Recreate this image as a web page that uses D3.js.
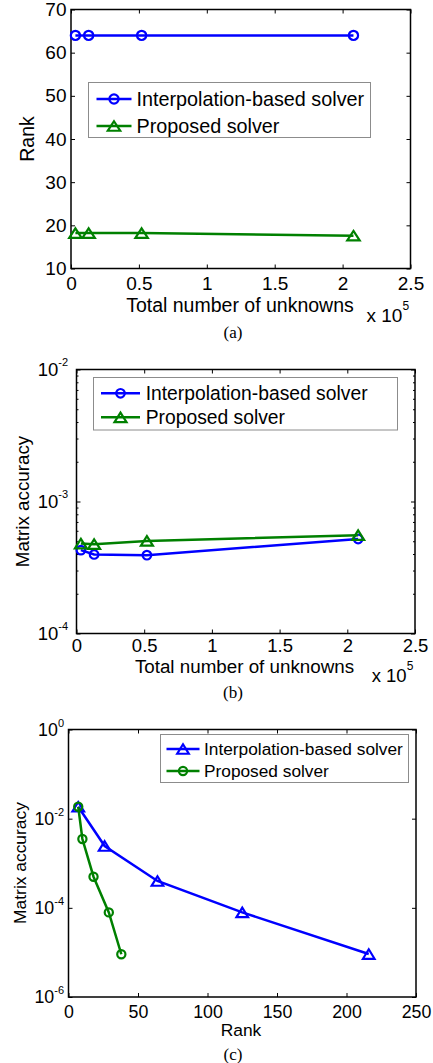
<!DOCTYPE html>
<html><head><meta charset="utf-8">
<script src="https://cdn.jsdelivr.net/npm/d3@7"></script>
<style>body{margin:0;background:#fff}</style>
</head><body><svg id="c" width="433" height="1063"></svg>
<script>
// ---------- data ----------
const unknowns = [3250, 13000, 52000, 208000];
const rankInterp = [64, 64, 64, 64];
const rankProposed = [18.2, 18.2, 18.2, 17.6];
const accInterpB = [4.28e-4, 3.97e-4, 3.92e-4, 5.2e-4];
const accProposedB = [4.8e-4, 4.75e-4, 5.03e-4, 5.56e-4];
const rankInterpC = [7, 26, 64, 125, 216];
const accInterpC = [1.85e-2, 2.44e-3, 4.0e-4, 7.9e-5, 9.2e-6];
const rankProposedC = [7, 10, 18, 29, 38];
const accProposedC = [1.85e-2, 3.5e-3, 4.99e-4, 7.9e-5, 9.1e-6];
const xTicksAB = [0, 50000, 100000, 150000, 200000, 250000];
const yTicksA = [10, 20, 30, 40, 50, 60, 70];
const yTicksB = [1e-4, 1e-3, 1e-2];
const yMinorB = [2e-4,3e-4,4e-4,5e-4,6e-4,7e-4,8e-4,9e-4,2e-3,3e-3,4e-3,5e-3,6e-3,7e-3,8e-3,9e-3];
const xTicksC = [0, 50, 100, 150, 200, 250];
const yTicksC = [1e-6, 1e-4, 1e-2, 1];
const seriesNames = ["Interpolation-based solver", "Proposed solver"];
const xLabelAB = "Total number of unknowns";
const yLabelA = "Rank";
const yLabelBC = "Matrix accuracy";
const xLabelC = "Rank";
const captions = ["(a)", "(b)", "(c)"];

// ---------- drawing ----------
const svg = d3.select('#c');
const FONT = '"Liberation Sans", Arial, Helvetica, sans-serif';
const SERIF = '"Liberation Serif", "Times New Roman", serif';
const BLUE = '#0000ff', GREEN = '#008000';
const LW = 2.5;

function triPath(w, h) {
  return `M0,${-h/2}L${w},${h/2}L${-w},${h/2}Z`;
}
function marker(sel, type, color, o) {
  if (type === 'o') {
    sel.append('circle').attr('r', o.cr).attr('fill', 'none').attr('stroke', color).attr('stroke-width', 2.2);
  } else {
    sel.append('path').attr('d', triPath(o.tw, o.th)).attr('fill', 'none').attr('stroke', color).attr('stroke-width', 2.2).attr('stroke-linejoin', 'miter');
  }
}

function drawPanel(o) {
  const g = svg.append('g').attr('font-family', FONT);
  const B = o.box;
  const x = d3.scaleLinear().domain(o.xDomain).range([B.l, B.r]);
  const y = (o.logY ? d3.scaleLog() : d3.scaleLinear()).domain(o.yDomain).range([B.b, B.t]);
  const TL = 4;

  g.append('g').attr('transform', `translate(0,${B.b})`)
    .call(d3.axisBottom(x).tickValues(o.xTicks).tickSizeInner(-TL).tickSizeOuter(0).tickPadding(o.xPad).tickFormat(o.xFmt));
  g.append('g').attr('transform', `translate(0,${B.t})`)
    .call(d3.axisTop(x).tickValues(o.xTicks).tickSizeInner(-TL).tickSizeOuter(0).tickFormat(''));
  const axL = g.append('g').attr('transform', `translate(${B.l},0)`)
    .call(d3.axisLeft(y).tickValues(o.yTicks).tickSizeInner(-TL).tickSizeOuter(0).tickPadding(o.yPad).tickFormat(o.logY ? () => '' : d3.format('d')));
  g.append('g').attr('transform', `translate(${B.r},0)`)
    .call(d3.axisRight(y).tickValues(o.yTicks).tickSizeInner(-TL).tickSizeOuter(0).tickFormat(''));
  if (o.yMinor) {
    g.append('g').attr('transform', `translate(${B.l},0)`)
      .call(d3.axisLeft(y).tickValues(o.yMinor).tickSizeInner(-2).tickSizeOuter(0).tickFormat(''));
    g.append('g').attr('transform', `translate(${B.r},0)`)
      .call(d3.axisRight(y).tickValues(o.yMinor).tickSizeInner(-2).tickSizeOuter(0).tickFormat(''));
  }
  g.selectAll('.domain').remove();
  g.selectAll('.tick line').attr('stroke', '#000').attr('stroke-width', 1);
  g.selectAll('g').attr('font-family', FONT).attr('font-size', o.fs);
  g.selectAll('.tick text').attr('fill', '#000').attr('font-family', FONT).attr('font-size', o.fs);
  if (o.logY) {
    axL.selectAll('.tick text').each(function (d) {
      const e = Math.round(Math.log10(d));
      const t = d3.select(this);
      t.text(null);
      t.append('tspan').text('10');
      t.append('tspan').attr('dy', -o.supRaise).attr('font-size', o.supFs).text(String(e));
    });
  }

  g.append('rect').attr('x', B.l).attr('y', B.t).attr('width', B.r - B.l).attr('height', B.b - B.t)
    .attr('fill', 'none').attr('stroke', '#000').attr('stroke-width', 1.5);

  const line = d3.line().x(d => x(d[0])).y(d => y(d[1]));
  o.series.forEach(s => {
    const pts = s.x.map((v, i) => [v, s.y[i]]);
    g.append('path').datum(pts).attr('d', line).attr('fill', 'none').attr('stroke', s.color).attr('stroke-width', LW);
    g.selectAll(null).data(pts).enter().append('g')
      .attr('transform', d => `translate(${x(d[0])},${y(d[1])})`)
      .each(function () { marker(d3.select(this), s.marker, s.color, o); });
  });

  // legend
  const L = o.legend;
  g.append('rect').attr('x', L.x0).attr('y', L.y0).attr('width', L.x1 - L.x0).attr('height', L.y1 - L.y0)
    .attr('fill', '#fff').attr('stroke', '#8c8c8c').attr('stroke-width', 1);
  o.series.forEach((s, i) => {
    const cy = L.rows[i];
    g.append('line').attr('x1', L.lx0).attr('x2', L.lx1).attr('y1', cy).attr('y2', cy)
      .attr('stroke', s.color).attr('stroke-width', LW);
    const m = g.append('g').attr('transform', `translate(${(L.lx0 + L.lx1) / 2},${cy})`);
    marker(m, s.marker, s.color, o);
    g.append('text').attr('x', L.tx).attr('y', cy + 0.36 * L.fs).attr('font-size', L.fs).attr('fill', '#000').text(s.name);
  });

  // axis labels
  g.append('text').attr('x', o.xLab.x).attr('y', o.xLab.y).attr('text-anchor', 'middle')
    .attr('font-size', o.labFs).attr('fill', '#000').text(o.xLab.text);
  g.append('text').attr('transform', `translate(${o.yLab.x},${o.yLab.y}) rotate(-90)`).attr('text-anchor', 'middle')
    .attr('font-size', o.labFs).attr('fill', '#000').text(o.yLab.text);
  if (o.mult) {
    const t = g.append('text').attr('x', o.mult.x).attr('y', o.mult.y).attr('font-size', o.fs).attr('fill', '#000');
    t.append('tspan').text('x 10');
    t.append('tspan').attr('dy', -12).attr('font-size', 12).text('5');
  }
  svg.append('text').attr('x', o.cap.x).attr('y', o.cap.y).attr('text-anchor', 'middle')
    .attr('font-family', SERIF).attr('font-size', 17).attr('fill', '#000').text(o.cap.text);
}

const fmtE5 = d => String(+(d / 1e5).toFixed(1));

drawPanel({
  box: { l: 71, r: 410.5, t: 9.5, b: 268.5 },
  xDomain: [0, 250000], yDomain: [10, 70], logY: false,
  xTicks: xTicksAB, yTicks: yTicksA, xFmt: fmtE5,
  xPad: 8, yPad: 4.5, fs: 19, labFs: 19.5,
  cr: 4.6, tw: 6.2, th: 9.5,
  series: [
    { name: seriesNames[0], x: unknowns, y: rankInterp, color: BLUE, marker: 'o' },
    { name: seriesNames[1], x: unknowns, y: rankProposed, color: GREEN, marker: '^' }
  ],
  legend: { x0: 88.5, x1: 370.5, y0: 82.5, y1: 137.5, rows: [99, 126], lx0: 96.5, lx1: 131.5, tx: 136.5, fs: 19.8 },
  xLab: { x: 240, y: 311.5, text: xLabelAB },
  yLab: { x: 34, y: 139, text: yLabelA },
  mult: { x: 366.5, y: 321.7 },
  cap: { x: 233, y: 338, text: captions[0] }
});

drawPanel({
  box: { l: 76.5, r: 415, t: 369.5, b: 633.5 },
  xDomain: [0, 250000], yDomain: [1e-4, 1e-2], logY: true,
  xTicks: xTicksAB, yTicks: yTicksB, yMinor: yMinorB, xFmt: fmtE5,
  xPad: 5.5, yPad: 8.5, fs: 18.5, labFs: 18.8, supFs: 11, supRaise: 10,
  cr: 4.3, tw: 6, th: 9.5,
  series: [
    { name: seriesNames[0], x: unknowns, y: accInterpB, color: BLUE, marker: 'o' },
    { name: seriesNames[1], x: unknowns, y: accProposedB, color: GREEN, marker: '^' }
  ],
  legend: { x0: 93.5, x1: 397.5, y0: 377.5, y1: 430, rows: [393.3, 417.3], lx0: 101, lx1: 140, tx: 145.7, fs: 19.3 },
  xLab: { x: 244.5, y: 673, text: xLabelAB },
  yLab: { x: 29, y: 501.5, text: yLabelBC },
  mult: { x: 371.7, y: 681.5 },
  cap: { x: 233, y: 698, text: captions[1] }
});

drawPanel({
  box: { l: 68.5, r: 416, t: 729.5, b: 997 },
  xDomain: [0, 250], yDomain: [1e-6, 1], logY: true,
  xTicks: xTicksC, yTicks: yTicksC, xFmt: d3.format('d'),
  xPad: 7.9, yPad: 4.5, fs: 17.8, labFs: 17.4, supFs: 11, supRaise: 9,
  cr: 4.1, tw: 5.8, th: 9.5,
  series: [
    { name: seriesNames[0], x: rankInterpC, y: accInterpC, color: BLUE, marker: '^' },
    { name: seriesNames[1], x: rankProposedC, y: accProposedC, color: GREEN, marker: 'o' }
  ],
  legend: { x0: 160.5, x1: 408.5, y0: 734.5, y1: 782.5, rows: [749, 771], lx0: 166.5, lx1: 199.5, tx: 204, fs: 17.3 },
  xLab: { x: 241, y: 1036, text: xLabelC },
  yLab: { x: 25.5, y: 863, text: yLabelBC },
  cap: { x: 233, y: 1060, text: captions[2] }
});
</script>
</body></html>
